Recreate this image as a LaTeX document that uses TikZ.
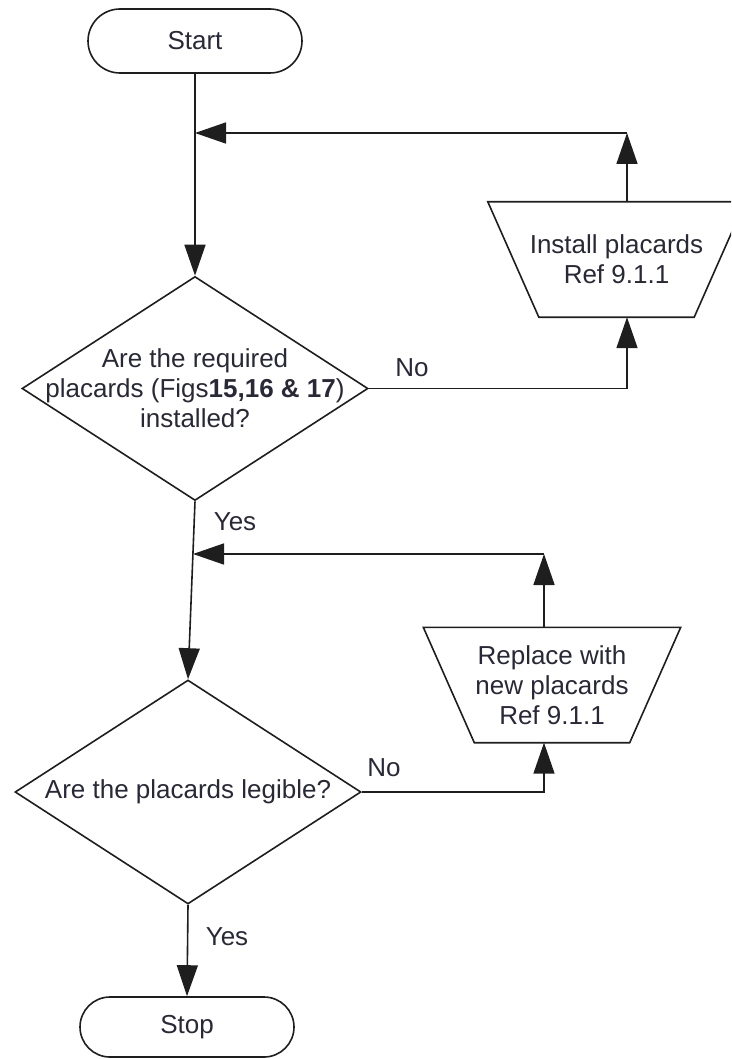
\documentclass[tikz,border=0pt]{standalone}
\usepackage{fontspec}
\setmainfont{Liberation Sans}
\usetikzlibrary{arrows.meta,shapes.geometric,calc}
\definecolor{ink}{RGB}{30,30,30}
\definecolor{txt}{RGB}{40,40,55}
\begin{document}
\begin{tikzpicture}[x=1pt,y=-1pt,
  every node/.style={font=\fontsize{26}{30}\selectfont, text=txt},
  flow/.style={draw=ink, line width=1.6pt},
  arr/.style={flow, -{Triangle[length=31pt,width=21pt]}},
  terminal/.style={rectangle, draw=ink, line width=1.6pt, rounded corners=#1,
    minimum width=214pt, minimum height=2*#1, inner sep=0pt},
  decision/.style={diamond, draw=ink, line width=1.6pt, minimum width=346pt,
    minimum height=224pt, inner sep=0pt},
  process/.style={rectangle, minimum width=257pt, minimum height=115pt,
    inner sep=0pt, align=center},
  mid/.style={align=center}
]
\clip (0,0) rectangle (731,1059);
\path[use as bounding box] (0,0) rectangle (731,1059);

% shapes
\node[terminal=32pt] (start) at (195,41) {Start};
\node[decision, label={[mid]center:{Are the required\\placards (Figs\textbf{15,16 \& 17})\\installed?}}] (q1) at (195,388.5) {};
\node[process] (p1) at (616.5,259.5) {Install placards\\Ref 9.1.1};
\node[decision, label={[mid]center:{Are the placards legible?}}] (q2) at (188,792) {};
\node[process] (p2) at (552,685) {Replace with\\new placards\\Ref 9.1.1};
\node[terminal=30pt] (stop) at (187,1027) {Stop};

% inverted trapezium outlines of the two process boxes
\foreach \p in {p1,p2}
  \draw[flow] (\p.north west) -- (\p.north east)
    -- ([xshift=-51pt]\p.south east) -- ([xshift=51pt]\p.south west) -- cycle;

% junction points of the return loops
\coordinate (j1) at (195,133);
\coordinate (c1) at (627,133);
\coordinate (j2) at (193,554);
\coordinate (c2) at (544,554);

% connectors
\draw[arr] (start) -- (q1);
\draw[arr] (q1.east) -| (c1 |- p1.south);
\draw[arr] (c1 |- p1.north) -- (c1);
\draw[arr] (c1) -- (j1);
\draw[arr] (q1.south) -- (q2.north);
\draw[arr] (q2.east) -| (c2 |- p2.south);
\draw[arr] (c2 |- p2.north) -- (c2);
\draw[arr] (c2) -- (j2);
\draw[arr] (q2.south) -- (stop.north);

% branch labels
\node (no1) at (412,368) {No};
\node (yes1) at (235,522) {Yes};
\node (no2) at (384,768) {No};
\node (yes2) at (227,937) {Yes};
\end{tikzpicture}
\end{document}
